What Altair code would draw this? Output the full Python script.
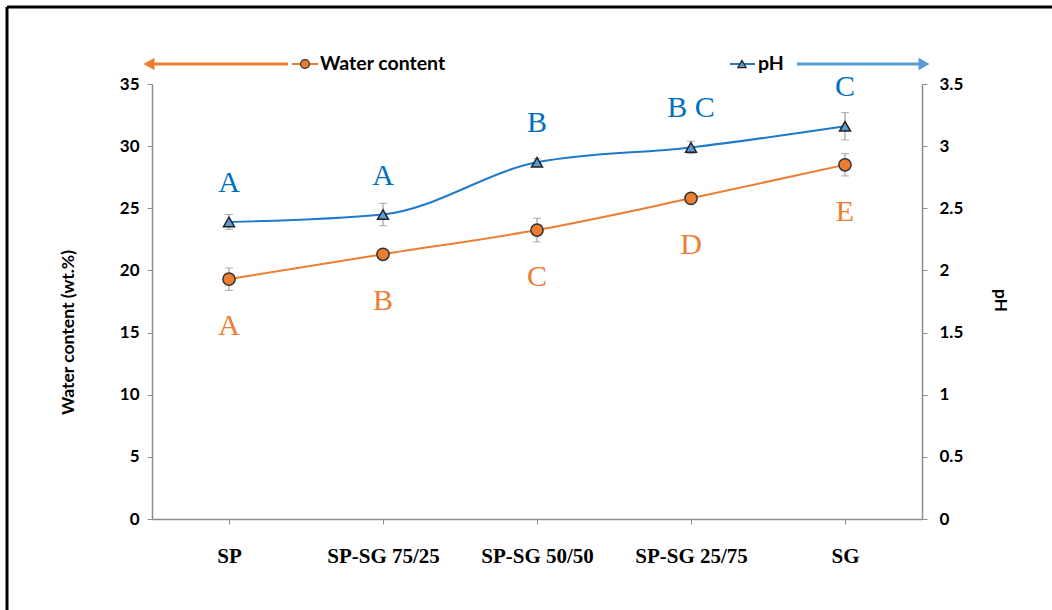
import altair as alt
import pandas as pd

# Samples along the x axis
samples = ["SP", "SP-SG 75/25", "SP-SG 50/50", "SP-SG 25/75", "SG"]

# Water content (wt.%) with standard deviations and significance groups
water = [19.3, 21.3, 23.25, 25.8, 28.5]
water_sd = [0.9, 0.35, 0.95, 0.2, 0.9]
water_groups = ["A", "B", "C", "D", "E"]

# pH with standard deviations and significance groups
ph = [2.39, 2.45, 2.87, 2.99, 3.16]
ph_sd = [0.06, 0.09, 0.03, 0.05, 0.11]
ph_groups = ["A", "A", "B", "B C", "C"]

ORANGE = "#ED7D31"
BLUE_LINE = "#1F7ACB"
BLUE_FILL = "#5B9BD5"
BLUE_TEXT = "#0070C0"
GREY = "#8C8C8C"

df = pd.DataFrame({
    "sample": samples,
    "water": water,
    "water_lo": [v - e for v, e in zip(water, water_sd)],
    "water_hi": [v + e for v, e in zip(water, water_sd)],
    "water_grp": water_groups,
    "ph": ph,
    "ph_lo": [v - e for v, e in zip(ph, ph_sd)],
    "ph_hi": [v + e for v, e in zip(ph, ph_sd)],
    "ph_grp": ph_groups,
})

W, H = 770, 435

x = alt.X(
    "sample:N", sort=samples, title=None,
    scale=alt.Scale(type="point", padding=0.5),
    axis=alt.Axis(
        labelAngle=0, labelFont="Liberation Serif", labelFontWeight="bold",
        labelFontSize=21, labelColor="black", labelPadding=21,
        tickSize=5, tickColor=GREY, domainColor=GREY, domainWidth=1.5,
    ),
)

base = alt.Chart(df)

# ---- water content (left axis) ----
wy_scale = alt.Scale(domain=[0, 35], nice=False)
wy_axis = alt.Axis(
    values=[0, 5, 10, 15, 20, 25, 30, 35], grid=False, format="~g",
    labelFont="Lato", labelFontWeight="bold", labelFontSize=17, labelColor="black",
    labelPadding=8, tickSize=5, tickColor=GREY, domainColor=GREY, domainWidth=1.5,
    title="Water content (wt.%)", titleFont="Lato", titleFontWeight="bold",
    titleFontSize=17.5, titleColor="black", titleX=-75, titleY=248,
)
w_err = base.mark_rule(color=GREY, strokeWidth=1).encode(
    x=x, y=alt.Y("water_lo:Q", scale=wy_scale, axis=wy_axis), y2="water_hi:Q")
w_cap_lo = base.mark_tick(orient="horizontal", color=GREY, size=8, thickness=1).encode(
    x=x, y=alt.Y("water_lo:Q", scale=wy_scale))
w_cap_hi = base.mark_tick(orient="horizontal", color=GREY, size=8, thickness=1).encode(
    x=x, y=alt.Y("water_hi:Q", scale=wy_scale))
w_line = base.mark_line(color=ORANGE, strokeWidth=2, interpolate="monotone").encode(
    x=x, y=alt.Y("water:Q", scale=wy_scale))
w_pts = base.mark_point(shape="circle", filled=True, fill=ORANGE, stroke="#333333",
                        strokeWidth=1.5, size=150, opacity=1).encode(
    x=x, y=alt.Y("water:Q", scale=wy_scale))
w_txt = base.mark_text(font="Liberation Serif", fontSize=30, color=ORANGE, dy=47).encode(
    x=x, y=alt.Y("water:Q", scale=wy_scale), text="water_grp:N")
water_layer = alt.layer(w_err, w_cap_lo, w_cap_hi, w_line, w_pts, w_txt)

# ---- pH (right axis) ----
py_scale = alt.Scale(domain=[0, 3.5], nice=False)
py_axis = alt.Axis(
    orient="right", values=[0, 0.5, 1, 1.5, 2, 2.5, 3, 3.5], grid=False, format="~g",
    labelFont="Lato", labelFontWeight="bold", labelFontSize=17, labelColor="black",
    labelPadding=12, tickSize=5, tickColor=GREY, domainColor=GREY, domainWidth=1.5,
    title="pH", titleFont="Lato", titleFontWeight="bold", titleFontSize=17.5,
    titleColor="black", titleX=68, titleY=216,
)
p_err = base.mark_rule(color=GREY, strokeWidth=1).encode(
    x=x, y=alt.Y("ph_lo:Q", scale=py_scale, axis=py_axis), y2="ph_hi:Q")
p_cap_lo = base.mark_tick(orient="horizontal", color=GREY, size=8, thickness=1).encode(
    x=x, y=alt.Y("ph_lo:Q", scale=py_scale))
p_cap_hi = base.mark_tick(orient="horizontal", color=GREY, size=8, thickness=1).encode(
    x=x, y=alt.Y("ph_hi:Q", scale=py_scale))
p_line = base.mark_line(color=BLUE_LINE, strokeWidth=2, interpolate="monotone").encode(
    x=x, y=alt.Y("ph:Q", scale=py_scale))
p_pts = base.mark_point(shape="triangle-up", filled=True, fill=BLUE_FILL, stroke="#222222",
                        strokeWidth=1.5, size=120, opacity=1).encode(
    x=x, y=alt.Y("ph:Q", scale=py_scale))
p_txt = base.mark_text(font="Liberation Serif", fontSize=30, color=BLUE_TEXT, dy=-39).encode(
    x=x, y=alt.Y("ph:Q", scale=py_scale), text="ph_grp:N")
ph_layer = alt.layer(p_err, p_cap_lo, p_cap_hi, p_line, p_pts, p_txt)

# ---- legend with direction arrows above the plot ----
one = alt.Chart(pd.DataFrame({"k": [0]}))
LY = -20
legend = alt.layer(
    # water content: arrow pointing to the left axis
    one.mark_rule(color=ORANGE, strokeWidth=3).encode(
        x=alt.value(-2), x2=alt.value(136), y=alt.value(LY)),
    one.mark_point(shape="triangle-left", filled=True, color=ORANGE, size=160, opacity=1).encode(
        x=alt.value(-3), y=alt.value(LY)),
    one.mark_rule(color=ORANGE, strokeWidth=2).encode(
        x=alt.value(140), x2=alt.value(166), y=alt.value(LY)),
    one.mark_point(shape="circle", filled=True, fill=ORANGE, stroke="#333333",
                   strokeWidth=1.2, size=80, opacity=1).encode(
        x=alt.value(153), y=alt.value(LY)),
    one.mark_text(text="Water content", align="left", baseline="middle", font="Lato",
                  fontWeight="bold", fontSize=19.5, color="black").encode(
        x=alt.value(168), y=alt.value(LY)),
    # pH: arrow pointing to the right axis
    one.mark_rule(color=BLUE_LINE, strokeWidth=2).encode(
        x=alt.value(578), x2=alt.value(603), y=alt.value(LY)),
    one.mark_point(shape="triangle-up", filled=True, fill=BLUE_FILL, stroke="#222222",
                   strokeWidth=1.2, size=70, opacity=1).encode(
        x=alt.value(590), y=alt.value(LY)),
    one.mark_text(text="pH", align="left", baseline="middle", font="Lato",
                  fontWeight="bold", fontSize=19.5, color="black").encode(
        x=alt.value(606), y=alt.value(LY)),
    one.mark_rule(color=BLUE_FILL, strokeWidth=3).encode(
        x=alt.value(645), x2=alt.value(770), y=alt.value(LY)),
    one.mark_point(shape="triangle-right", filled=True, color=BLUE_FILL, size=160, opacity=1).encode(
        x=alt.value(772), y=alt.value(LY)),
    # outer frame (top and left edges)
    one.mark_rule(color="black", strokeWidth=3).encode(
        x=alt.value(-145), x2=alt.value(910), y=alt.value(-77)),
    one.mark_rule(color="black", strokeWidth=3).encode(
        x=alt.value(-145), y=alt.value(-77), y2=alt.value(540)),
)

chart = alt.layer(water_layer, ph_layer, legend).resolve_scale(y="independent").properties(
    width=W, height=H,
    autosize=alt.AutoSizeParams(type="none"),
    padding={"left": 152, "top": 84, "right": 130, "bottom": 91},
    background="white",
).configure_view(stroke=None)

chart.save("out.html", embed_options={"renderer": "svg", "actions": False})
